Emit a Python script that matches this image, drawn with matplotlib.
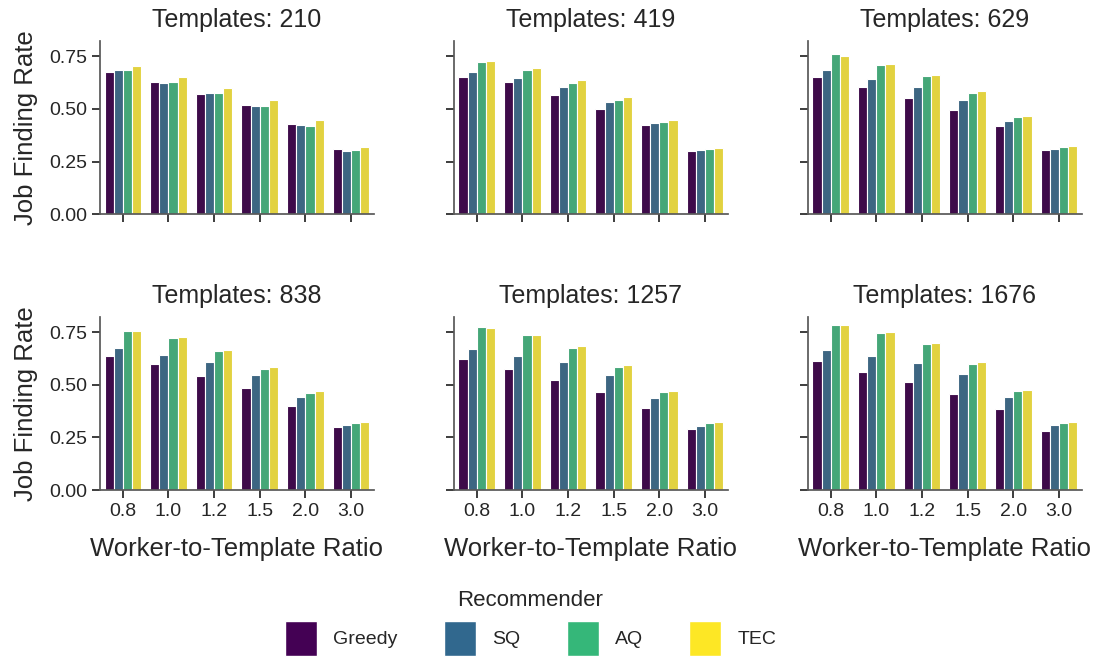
import colorsys
import matplotlib
matplotlib.use("Agg")
import matplotlib.pyplot as plt
import matplotlib.colors as mcolors
from matplotlib.patches import Patch
import numpy as np

plt.rcParams['font.family'] = ['Liberation Sans', 'DejaVu Sans']
plt.rcParams['text.color'] = '#262626'
plt.rcParams['axes.labelcolor'] = '#262626'
plt.rcParams['xtick.color'] = '#262626'
plt.rcParams['ytick.color'] = '#262626'

ratios = ['0.8', '1.0', '1.2', '1.5', '2.0', '3.0']
templates = [210, 419, 629, 838, 1257, 1676]
recommenders = ['Greedy', 'SQ', 'AQ', 'TEC']
base_colors = ['#440154', '#31688e', '#35b779', '#fde725']

# job finding rate per panel, rows = recommender, cols = ratio
rate_210 = [
    [0.678, 0.628, 0.571, 0.517, 0.427, 0.308],
    [0.684, 0.624, 0.576, 0.515, 0.423, 0.301],
    [0.687, 0.628, 0.574, 0.512, 0.419, 0.305],
    [0.705, 0.652, 0.601, 0.541, 0.447, 0.321],
]
rate_419 = [
    [0.654, 0.627, 0.566, 0.501, 0.423, 0.301],
    [0.675, 0.646, 0.604, 0.534, 0.432, 0.305],
    [0.721, 0.683, 0.622, 0.542, 0.439, 0.309],
    [0.729, 0.697, 0.638, 0.557, 0.450, 0.314],
]
rate_629 = [
    [0.654, 0.603, 0.553, 0.494, 0.418, 0.303],
    [0.686, 0.644, 0.606, 0.545, 0.445, 0.309],
    [0.762, 0.710, 0.655, 0.577, 0.461, 0.319],
    [0.754, 0.714, 0.663, 0.587, 0.467, 0.324],
]
rate_838 = [
    [0.638, 0.598, 0.542, 0.485, 0.400, 0.298],
    [0.673, 0.641, 0.611, 0.545, 0.440, 0.309],
    [0.758, 0.722, 0.663, 0.577, 0.463, 0.321],
    [0.754, 0.726, 0.667, 0.585, 0.472, 0.324],
]
rate_1257 = [
    [0.622, 0.577, 0.525, 0.467, 0.392, 0.289],
    [0.670, 0.636, 0.608, 0.545, 0.439, 0.306],
    [0.774, 0.735, 0.676, 0.585, 0.464, 0.317],
    [0.770, 0.738, 0.683, 0.596, 0.470, 0.322],
]
rate_1676 = [
    [0.612, 0.560, 0.512, 0.458, 0.383, 0.282],
    [0.667, 0.635, 0.603, 0.550, 0.440, 0.307],
    [0.783, 0.746, 0.694, 0.600, 0.470, 0.321],
    [0.785, 0.751, 0.699, 0.608, 0.474, 0.322],
]
all_rates = [rate_210, rate_419, rate_629, rate_838, rate_1257, rate_1676]


def desaturate(c, prop=0.75):
    r, g, b = mcolors.to_rgb(c)
    h, l, s = colorsys.rgb_to_hls(r, g, b)
    return colorsys.hls_to_rgb(h, l, s * prop)


bar_colors = [desaturate(c) for c in base_colors]

fig, axes = plt.subplots(2, 3, figsize=(10.96, 6.57), dpi=100, sharex=True, sharey=True)
fig.subplots_adjust(left=0.0912, right=0.987, bottom=0.254, top=0.938, wspace=0.292, hspace=0.59)

x = np.arange(len(ratios))
bw = 0.2
ymax = max(max(max(r) for r in rates) for rates in all_rates) * 1.05

for i, ax in enumerate(axes.flat):
    rates = all_rates[i]
    for k, name in enumerate(recommenders):
        ax.bar(x + (k - 1.5) * bw, rates[k], width=bw, color=bar_colors[k],
               edgecolor='white', linewidth=0.8)
    ax.set_title(f'Templates: {templates[i]}', fontsize=18, pad=10)
    ax.set_xlim(-0.5, len(ratios) - 0.5)
    ax.set_ylim(0, ymax)
    ax.set_yticks([0, 0.25, 0.5, 0.75])
    ax.set_xticks(x)
    ax.set_xticklabels(ratios)
    ax.tick_params(labelsize=14, length=6, width=1.25)
    for s in ['top', 'right']:
        ax.spines[s].set_visible(False)
    for s in ['left', 'bottom']:
        ax.spines[s].set_color('0.35')
        ax.spines[s].set_linewidth(1.25)
    if i % 3 == 0:
        ax.set_ylabel('Job Finding Rate', fontsize=18.5, labelpad=8)
        ax.yaxis.set_major_formatter(matplotlib.ticker.FormatStrFormatter('%.2f'))
    if i >= 3:
        ax.set_xlabel('Worker-to-Template Ratio', fontsize=18.5, labelpad=12)

handles = [Patch(facecolor=c, edgecolor='white', label=n) for c, n in zip(base_colors, recommenders)]
leg = fig.legend(handles=handles, loc='upper center', bbox_to_anchor=(0.484, 0.128), ncol=4,
                 frameon=False, fontsize=14, title='Recommender', title_fontsize=16,
                 handlelength=1.65, handleheight=2.35, handletextpad=0.82, columnspacing=2.4)

fig.savefig('out.png', dpi=100)
